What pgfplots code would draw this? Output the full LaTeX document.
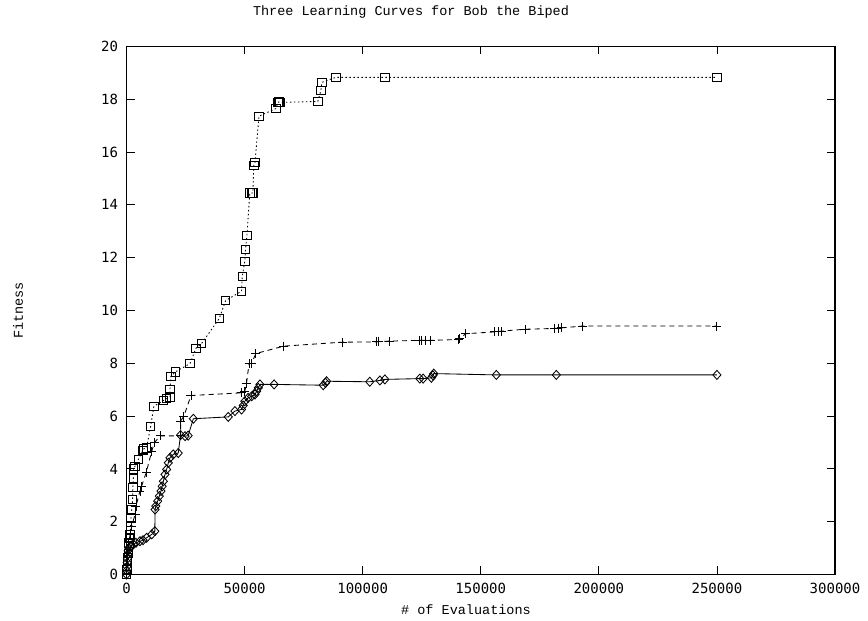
\documentclass[border=0pt]{standalone}
\usepackage{fontspec}
\setmainfont{Liberation Mono}
\newfontfamily\tickfont{DejaVu Sans Mono}
\usepackage{pgfplots}
\pgfplotsset{compat=1.18}
\begin{document}
\begin{tikzpicture}
\useasboundingbox (-126.5pt,-46.5pt) rectangle (741.5pt,574.5pt);
\begin{axis}[
  at={(0,0)}, anchor=south west,
  scale only axis, width=708.5pt, height=528pt,
  xmin=0, xmax=300000, ymin=0, ymax=20,
  xtick={0,50000,...,300000}, ytick={0,2,...,20},
  scaled x ticks=false,
  xticklabel style={/pgf/number format/fixed,/pgf/number format/1000 sep={},font=\tickfont\fontsize{14}{14}\selectfont, yshift=-5.5pt},
  yticklabel style={font=\tickfont\fontsize{14}{14}\selectfont, xshift=-5pt},
  /pgf/number format/assume math mode=true,
  tick align=inside, major tick length=8pt,
  tick style={black, line width=0.8pt},
  axis line style={line width=1.2pt},
  clip=false,
]
\addplot[black, line width=0.85pt, dash pattern=on 1.5pt off 2.5pt, mark=square, mark size=4.2pt, mark options={solid, line width=0.85pt}] coordinates {
(0,0) (100,0.2) (300,0.55) (700,0.8) (1100,1.2) (1300,1.4) (1500,1.5) (1900,2.15) (2200,2.45) (2600,2.85) (2700,3.3) (2900,3.65) (3000,4.0) (3600,4.1) (5000,4.35) (6900,4.7) (7100,4.75) (8500,4.8) (10200,5.6) (11600,6.37) (15600,6.59) (17000,6.66) (18400,6.73) (18400,7.0) (18800,7.51) (20800,7.68) (26900,7.99) (29400,8.57) (31800,8.75) (39300,9.7) (42000,10.38) (48700,10.73) (49000,11.28) (50100,11.87) (50400,12.31) (51000,12.84) (52200,14.45) (53100,14.45) (53500,14.45) (53900,15.5) (54400,15.6) (56100,17.36) (63300,17.65) (64100,17.88) (64500,17.9) (65000,17.88) (81000,17.92) (82300,18.33) (82700,18.64) (88600,18.83) (109400,18.83) (250000,18.83)
};
\addplot[black, line width=0.85pt, dash pattern=on 5pt off 4pt, mark=+, mark size=4.5pt, mark options={solid, line width=0.85pt}] coordinates {
(0,0) (300,0.4) (600,0.8) (1000,1.2) (1500,1.5) (2200,1.83) (3600,2.27) (4000,2.59) (5700,3.16) (6400,3.35) (8300,3.85) (10700,4.67) (11800,4.99) (14200,5.25) (22900,5.25) (22900,5.81) (24300,6.0) (27300,6.78) (48700,6.88) (50100,6.94) (50800,7.23) (51900,7.99) (52900,7.99) (54800,8.37) (66600,8.65) (91300,8.8) (105900,8.81) (106800,8.83) (111500,8.84) (123900,8.87) (124900,8.87) (126600,8.87) (128700,8.87) (140400,8.9) (141100,8.93) (143600,9.12) (155900,9.19) (157300,9.2) (158700,9.22) (168900,9.29) (181300,9.32) (182700,9.33) (184100,9.34) (193000,9.41) (250000,9.41)
};
\addplot[black, line width=0.85pt, mark=diamond, mark size=4.5pt, mark options={solid, line width=0.85pt, xscale=1.2}] coordinates {
(0,0) (100,0.15) (200,0.3) (300,0.45) (400,0.6) (500,0.75) (700,0.9) (1000,1.0) (1500,1.06) (2000,1.1) (2900,1.14) (4000,1.2) (5700,1.26) (7000,1.3) (8500,1.39) (10700,1.52) (12000,1.64) (12100,2.46) (12400,2.59) (13200,2.78) (13900,2.97) (14600,3.16) (15100,3.34) (15600,3.53) (16300,3.79) (17000,3.98) (17700,4.23) (18400,4.42) (19800,4.55) (21900,4.6) (22900,5.28) (24800,5.24) (26100,5.26) (28300,5.9) (43100,5.97) (45900,6.19) (48700,6.25) (49400,6.4) (50100,6.56) (51500,6.69) (53000,6.75) (54400,6.82) (55100,6.94) (55800,7.07) (56500,7.2) (62500,7.2) (83300,7.17) (84300,7.26) (84700,7.32) (103000,7.3) (107300,7.35) (109400,7.39) (124200,7.42) (125600,7.42) (129100,7.45) (129800,7.54) (130100,7.61) (156600,7.56) (182000,7.56) (250000,7.56)
};
\end{axis}
\node[font=\fontsize{13.5}{14}\selectfont] at (284.5pt,562.5pt) {Three Learning Curves for Bob the Biped};
\node[font=\fontsize{13.5}{14}\selectfont] at (339.5pt,-35.5pt) {\# of Evaluations};
\node[font=\fontsize{13.5}{14}\selectfont, rotate=90] at (-108.5pt,264pt) {Fitness};
\end{tikzpicture}
\end{document}
